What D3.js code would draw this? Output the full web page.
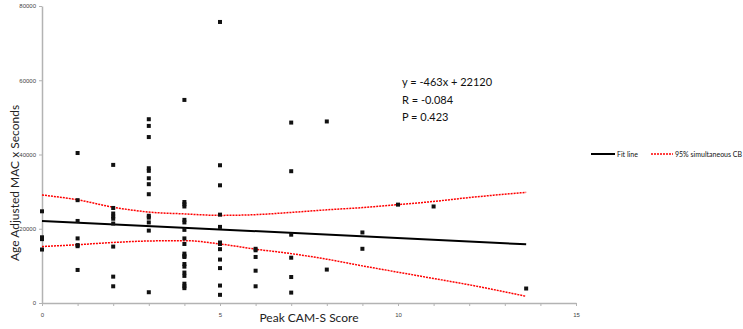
<!DOCTYPE html>
<html>
<head>
<meta charset="utf-8">
<script src="https://cdn.jsdelivr.net/npm/d3@7"></script>
<style>
  body { margin: 0; background: #fff; }
  svg { display: block; font-family: Lato, "Open Sans", sans-serif; }
  .axis path, .axis line { stroke: #b3b3b3; }
  .axis path { stroke-width: 1.5; }
  .axis text { fill: #444; font-size: 6px; }
</style>
</head>
<body>
<div id="chart"></div>
<script>
// Data: each column of points is one CAM-S score
var xs0 = [24700, 17700, 17200, 14400];
var xs1 = [40400, 27700, 22100, 17400, 15600, 15300, 8900];
var xs2 = [37200, 25600, 24100, 23300, 22700, 21400, 15200, 7100, 4500];
var xs3 = [49500, 47700, 44700, 36300, 35600, 33600, 32000, 29300, 23500, 23000, 21700, 19500, 2900];
var xs4 = [54700, 27200, 26600, 26000, 22400, 21700, 19700, 17400, 15900, 13300, 12700, 12400, 10500, 9800, 8200, 7300, 5200, 4500, 4000];
var xs5 = [75700, 37100, 31700, 23800, 20500, 16300, 15900, 14500, 11700, 9400, 4700, 2200];
var xs6 = [14600, 14200, 12400, 8700, 4500];
var xs7 = [48600, 35500, 18400, 12200, 7000, 2800];
var xs8 = [48900, 9000];
var xs9 = [19000, 14600];
var xs10 = [26500];
var xs11 = [26000];
var xs13_6 = [3900];

var scoreCols = [
  [0, xs0], [1, xs1], [2, xs2], [3, xs3], [4, xs4], [5, xs5], [6, xs6],
  [7, xs7], [8, xs8], [9, xs9], [10, xs10], [11, xs11], [13.6, xs13_6]
];

// fit line end points
var fitX = [0, 13.6];
var fitY = [22120, 15823];

// 95% simultaneous confidence band, read at these scores
var bandX = [0, 1, 2, 3, 4, 5, 6, 7, 8, 9, 10, 11, 12, 13.6];
var bandUpper = [29100, 27800, 25800, 24500, 24000, 23600, 23800, 24400, 25100, 25700, 26500, 27350, 28400, 29800];
var bandLower = [15200, 15700, 16300, 16700, 16800, 15900, 14500, 13300, 11800, 10000, 8300, 6600, 4900, 1800];

var xTicks = [0, 5, 10, 15];
var yTicks = [0, 20000, 40000, 60000, 80000];
var statLines = ["y = -463x + 22120", "R = -0.084", "P = 0.423"];

var W = 743, H = 329;
var margin = {top: 6, right: 167, bottom: 26, left: 42};

var svg = d3.select("#chart").append("svg")
    .attr("width", W)
    .attr("height", H);

var x = d3.scaleLinear().domain([0, 15]).range([margin.left, W - margin.right]);
var y = d3.scaleLinear().domain([0, 80000]).range([H - margin.bottom, margin.top]);

// x axis: labels every 5, small ticks every 1
var xAxis = svg.append("g")
    .attr("class", "axis")
    .attr("transform", "translate(0," + y(0) + ")")
    .call(d3.axisBottom(x).tickValues(d3.range(0, 16)).tickSize(3).tickSizeOuter(0)
        .tickFormat(function(d) { return xTicks.indexOf(d) >= 0 ? d : ""; }));
xAxis.selectAll("text").attr("dy", "1.3em");

var yAxis = svg.append("g")
    .attr("class", "axis")
    .attr("transform", "translate(" + x(0) + ",0)")
    .call(d3.axisLeft(y).tickValues(yTicks).tickSize(3).tickSizeOuter(0).tickFormat(d3.format("d")));
yAxis.selectAll("text").attr("x", -6);

// axis titles
svg.append("text")
    .attr("x", 309)
    .attr("y", 322)
    .attr("text-anchor", "middle")
    .style("font-size", "12px")
    .style("fill", "#222")
    .text("Peak CAM-S Score");

svg.append("text")
    .attr("transform", "translate(19,183) rotate(-90)")
    .attr("text-anchor", "middle")
    .style("font-size", "12px")
    .style("fill", "#222")
    .text("Age Adjusted MAC x Seconds");

// confidence band
var bandLine = function(vals) {
  return d3.line()
    .x(function(d, i) { return x(bandX[i]); })
    .y(function(d) { return y(d); })
    .curve(d3.curveMonotoneX)(vals);
};

[bandUpper, bandLower].forEach(function(vals) {
  svg.append("path")
    .attr("d", bandLine(vals))
    .attr("fill", "none")
    .attr("stroke", "#f00")
    .attr("stroke-width", 1.5)
    .attr("stroke-dasharray", "2,1");
});

// fit line
svg.append("line")
    .attr("x1", x(fitX[0])).attr("y1", y(fitY[0]))
    .attr("x2", x(fitX[1])).attr("y2", y(fitY[1]))
    .attr("stroke", "#000")
    .attr("stroke-width", 2);

// points
var pts = [];
scoreCols.forEach(function(c) {
  c[1].forEach(function(v) { pts.push({score: c[0], val: v}); });
});

svg.append("g").selectAll("rect")
    .data(pts)
    .enter()
    .append("rect")
    .attr("x", function(d) { return x(d.score) - 2; })
    .attr("y", function(d) { return y(d.val) - 2; })
    .attr("width", 4)
    .attr("height", 4)
    .attr("fill", "#111");

// stats annotation
svg.append("g").selectAll("text")
    .data(statLines)
    .enter()
    .append("text")
    .attr("x", 402)
    .attr("y", function(d, i) { return 86 + i * 17.5; })
    .style("font-size", "11px")
    .style("fill", "#111")
    .text(function(d) { return d; });

// legend
var lg = svg.append("g").attr("transform", "translate(591,154)");
lg.append("line").attr("x1", 0).attr("x2", 24).attr("y1", 0).attr("y2", 0)
    .attr("stroke", "#000").attr("stroke-width", 2);
lg.append("text").attr("x", 26).attr("y", 2.5)
    .style("font-size", "7px").style("fill", "#111").text("Fit line");
lg.append("line").attr("x1", 60).attr("x2", 82).attr("y1", 0).attr("y2", 0)
    .attr("stroke", "#f00").attr("stroke-width", 1.5).attr("stroke-dasharray", "2,1");
lg.append("text").attr("x", 84).attr("y", 2.5)
    .style("font-size", "7px").style("fill", "#111").text("95% simultaneous CB");
</script>
</body>
</html>
